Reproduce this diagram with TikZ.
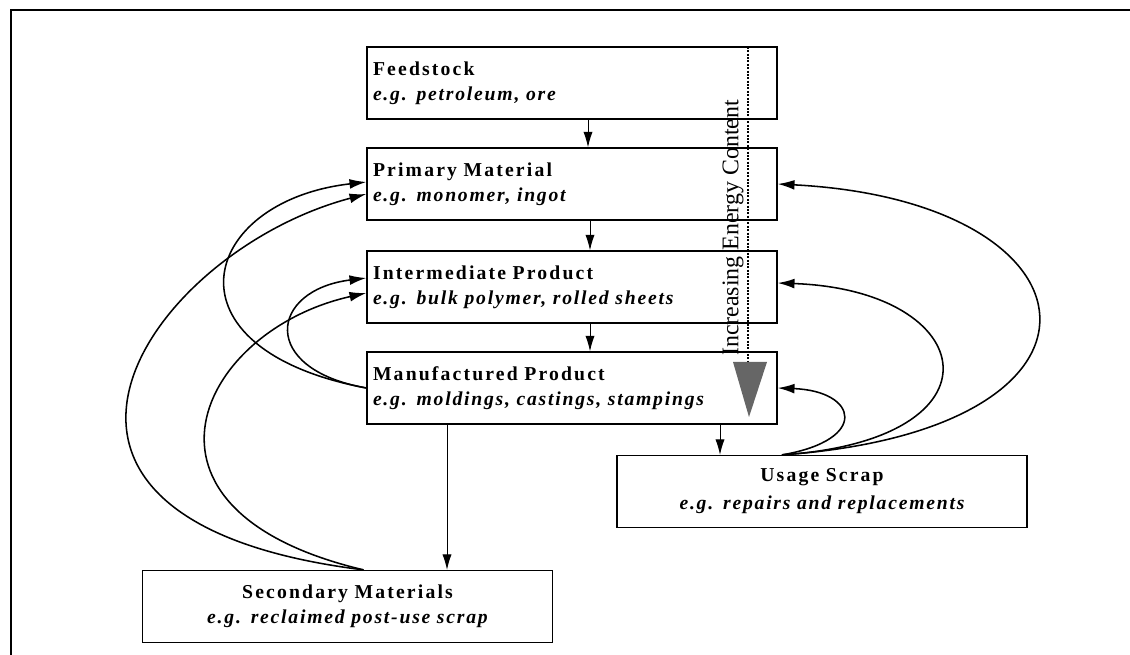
\documentclass[tikz,border=0pt]{standalone}
\usepackage{fontspec}
\setmainfont{Liberation Serif}
\newfontfamily\headfont[LetterSpace=11, WordSpace=1.8]{Liberation Serif}
\newfontfamily\egfont[LetterSpace=9, WordSpace=1.6]{Liberation Serif}
\usetikzlibrary{arrows.meta}

\newcommand{\stagetext}[2]{{\headfont\bfseries #1}\\{\egfont\bfseries\itshape #2}}

\begin{document}
\begin{tikzpicture}[
    stagebox/.style={draw, line width=0.9pt, minimum width=10.25cm, minimum height=1.8cm,
        inner xsep=0.15cm, text width=9.95cm, align=left, font=\fontsize{14}{18}\selectfont},
    scrapbox/.style={stagebox, align=center},
    flow/.style={-{Latex[length=11pt,width=6.5pt]}, line width=0.7pt},
    recycle/.style={-{Latex[length=12pt,width=7pt]}, line width=1.1pt}
]

    \useasboundingbox (0,0) rectangle (28.25,-16.375);

    % Frame (only top and left edges show)
    \draw[line width=1.3pt] (28.25,-0.25) -- (0.275,-0.25) -- (0.275,-16.375);

    % Production chain
    \node[stagebox] (feed) at (14.3,-2.075) {\stagetext{Feedstock}{e.g. petroleum, ore}};
    \node[stagebox] (prim) at (14.3,-4.6) {\stagetext{Primary Material}{e.g. monomer, ingot}};
    \node[stagebox] (inter) at (14.3,-7.175) {\stagetext{Intermediate Product}{e.g. bulk polymer, rolled sheets}};
    \node[stagebox] (manuf) at (14.3,-9.7) {\stagetext{Manufactured Product}{e.g. moldings, castings, stampings}};

    % Scrap boxes
    \node[scrapbox, font=\fontsize{14}{20}\selectfont] (usage) at (20.55,-12.2875) {\stagetext{Usage Scrap}{e.g. repairs and replacements}};
    \node[scrapbox] (second) at (8.6875,-15.1625) {\stagetext{Secondary Materials}{e.g. reclaimed post-use scrap}};

    % Downward flow
    \draw[flow] ([xshift=0.4cm]feed.south) -- ([xshift=0.4cm]prim.north);
    \draw[flow] ([xshift=0.45cm]prim.south) -- ([xshift=0.45cm]inter.north);
    \draw[flow] ([xshift=0.45cm]inter.south) -- ([xshift=0.45cm]manuf.north);
    \draw[flow] ([xshift=3.7cm]manuf.south) -- ([xshift=3.7cm]manuf.south |- usage.north);
    \draw[flow] ([xshift=-3.125cm]manuf.south) -- ([xshift=-3.125cm]manuf.south |- second.north);

    % Energy content indicator
    \coordinate (dottop) at (18.7,-1.175);
    \coordinate (tritop) at (18.7,-9.05);
    \draw[densely dotted, line width=1.4pt] (dottop) -- (tritop);
    \fill[black!60] (18.325,-9.05) -- (19.175,-9.05) -- (18.725,-10.425) -- cycle;
    \node[rotate=90, font=\fontsize{17}{20}\selectfont] (energy) at (18.325,-5.7) {Increasing Energy Content};

    % Secondary materials fed back
    \draw[recycle] ([xshift=0.4cm]second.north) .. controls +(-10.075,1.25) and +(-5.425,-1.425) .. ([yshift=-0.25cm]prim.west);
    \draw[recycle] ([xshift=0.4cm]second.north) .. controls +(-6.325,1.5) and +(-4.175,-0.925) .. ([yshift=-0.15cm]inter.west);

    % Manufacturing scrap fed back
    \draw[recycle] (manuf.west) .. controls +(-5.2,0.975) and +(-4.175,-0.475) .. ([yshift=0.05cm]prim.west);
    \draw[recycle] (manuf.west) .. controls +(-2.7,0.475) and +(-2.425,-0.3) .. ([yshift=0.225cm]inter.west);

    % Usage scrap fed back
    \draw[recycle] ([xshift=-1cm]usage.north) .. controls +(2.2,0.375) and +(2.0,-0.075) .. (manuf.east);
    \draw[recycle] ([xshift=-1cm]usage.north) .. controls +(5.7,0.375) and +(5.05,-0.175) .. ([yshift=0.1cm]inter.east);
    \draw[recycle] ([xshift=-1cm]usage.north) .. controls +(8.95,0.625) and +(8.25,-0.425) .. (prim.east);

\end{tikzpicture}
\end{document}
